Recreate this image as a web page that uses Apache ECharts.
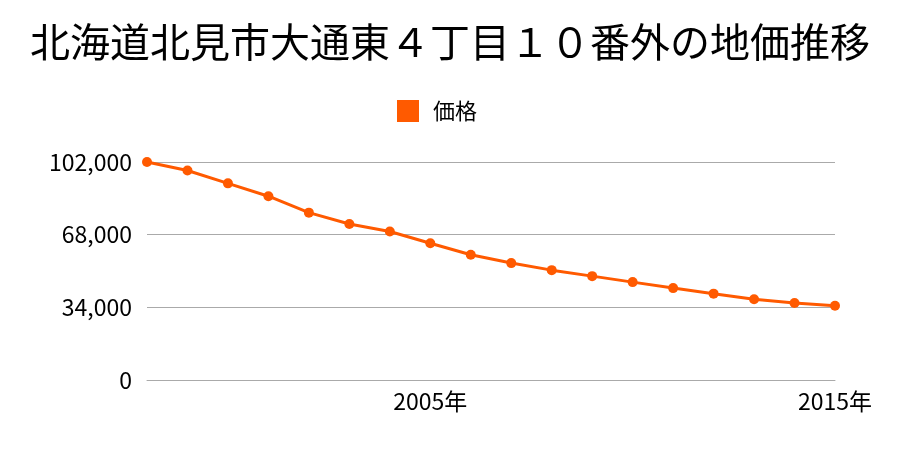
<!DOCTYPE html>
<html><head><meta charset="utf-8">
<script src="https://cdn.jsdelivr.net/npm/echarts@6/dist/echarts.min.js"></script>
<style>html,body{margin:0;padding:0;background:#fff}#c{width:900px;height:450px}</style>
</head><body><div id="c"></div>
<script>
const years = ['1998','1999','2000','2001','2002','2003','2004','2005','2006','2007','2008','2009','2010','2011','2012','2013','2014','2015'];
const prices = [102000,98000,92000,86000,78300,73000,69500,64000,58600,54700,51400,48600,45800,43000,40400,37800,36000,34700];
const yTicks = [0,34000,68000,102000];
const titleText = '北海道北見市大通東４丁目１０番外の地価推移';
const seriesName = '価格';
const font = '"Noto Sans CJK JP","Noto Sans",sans-serif';
const chart = echarts.init(document.getElementById('c'));
chart.setOption({
  animation:false,
  title:{text:titleText,left:'center',top:17,textStyle:{fontFamily:font,fontSize:40,fontWeight:'normal',color:'#000'}},
  legend:{data:[seriesName],top:95,left:392,icon:'rect',itemWidth:22,itemHeight:22,itemGap:12,textStyle:{fontFamily:font,fontSize:22,color:'#000',padding:[0,0,0,9]}},
  grid:{left:147,right:65,top:162,bottom:70,containLabel:false},
  xAxis:{type:'category',data:years,boundaryGap:false,
    axisLine:{show:true,lineStyle:{color:'#aaa'}},axisTick:{show:false},
    axisLabel:{interval:function(i,v){return Number(v)%10===5;},formatter:function(v){return v+'年';},fontFamily:font,fontSize:23,color:'#000',margin:10},
    splitLine:{show:false}},
  yAxis:{type:'value',min:yTicks[0],max:yTicks[yTicks.length-1],interval:yTicks[1]-yTicks[0],
    axisLine:{show:false},axisTick:{show:false},
    axisLabel:{fontFamily:font,fontSize:23,color:'#000',margin:15,formatter:function(v){return v.toLocaleString('en-US');}},
    splitLine:{lineStyle:{color:'#aaa'}}},
  series:[{name:seriesName,type:'line',data:prices,symbol:'circle',symbolSize:10,
    itemStyle:{color:'#ff5a00'},lineStyle:{color:'#ff5a00',width:3}}]
});
</script></body></html>
